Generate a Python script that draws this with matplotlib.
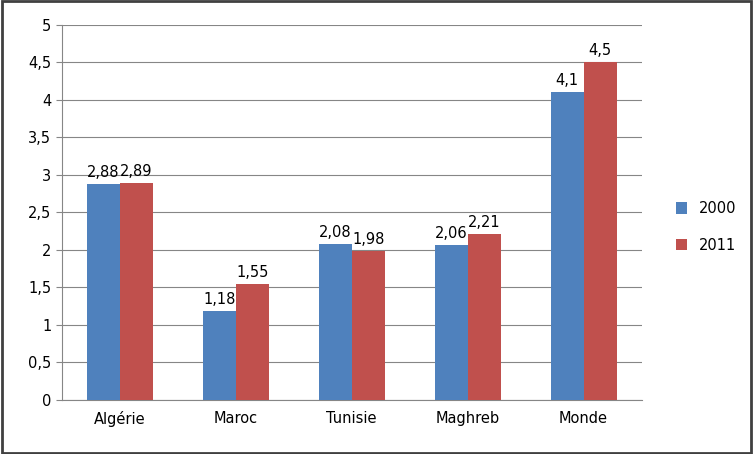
import matplotlib.pyplot as plt
import numpy as np
from matplotlib.patches import Rectangle

categories = ["Algérie", "Maroc", "Tunisie", "Maghreb", "Monde"]
values_2000 = [2.88, 1.18, 2.08, 2.06, 4.1]
values_2011 = [2.89, 1.55, 1.98, 2.21, 4.5]
series_names = ["2000", "2011"]
yticks = [0, 0.5, 1, 1.5, 2, 2.5, 3, 3.5, 4, 4.5, 5]


def fr(v):
    return f"{v:g}".replace(".", ",")


fig = plt.figure(figsize=(7.53, 4.54), dpi=100)
ax = fig.add_axes([0.082, 0.119, 0.77, 0.826])

x = np.arange(len(categories))
w = 0.285
b1 = ax.bar(x - w / 2, values_2000, w, color="#4F81BD", label=series_names[0], zorder=3)
b2 = ax.bar(x + w / 2, values_2011, w, color="#C0504D", label=series_names[1], zorder=3)
ax.bar_label(b1, labels=[fr(v) for v in values_2000], padding=3, fontsize=10.5)
ax.bar_label(b2, labels=[fr(v) for v in values_2011], padding=3, fontsize=10.5)

ax.set_xlim(-0.5, len(categories) - 0.5)
ax.set_ylim(0, 5)
ax.set_yticks(yticks)
ax.set_yticklabels([fr(v) for v in yticks], fontsize=10.5)
ax.set_xticks(x)
ax.set_xticklabels(categories, fontsize=10.5)
ax.grid(axis="y", color="#868686", linewidth=0.8, zorder=0)
for s in ["top", "right"]:
    ax.spines[s].set_visible(False)
ax.spines["left"].set_color("#868686")
ax.spines["bottom"].set_color("#868686")
ax.tick_params(axis="y", length=4, color="#868686")
ax.tick_params(axis="x", length=0, pad=8)

fig.legend(handles=[b1, b2], loc="center left", bbox_to_anchor=(0.88, 0.5),
           frameon=False, fontsize=10.5, handlelength=0.8, handleheight=0.8,
           labelspacing=1.5)

fig.patches.append(Rectangle((0.002, 0.003), 0.996, 0.994, transform=fig.transFigure,
                             fill=False, edgecolor="#404040", linewidth=2))

fig.savefig("out.png", dpi=100)
